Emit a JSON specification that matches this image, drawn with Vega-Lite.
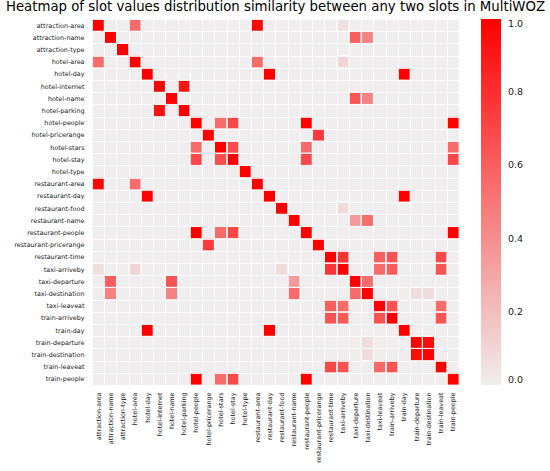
{
  "$schema": "https://vega.github.io/schema/vega-lite/v6.json",
  "autosize": {"type": "none"},
  "padding": {"left": 92, "top": 19, "right": 91, "bottom": 86},
  "width": 367,
  "height": 366,
  "title": {"text": "Heatmap of slot values distribution similarity between any two slots in MultiWOZ", "font": "DejaVu Sans", "fontSize": 13.3, "fontWeight": "normal", "color": "#000000", "anchor": "middle", "frame": "group", "offset": 3},
  "config": {"view": {"fill": "#efeded", "stroke": null}},
  "data": {"values": [
    {"row": "attraction-area", "col": "attraction-area", "value": 1},
    {"row": "attraction-name", "col": "attraction-name", "value": 1},
    {"row": "attraction-type", "col": "attraction-type", "value": 1},
    {"row": "hotel-area", "col": "hotel-area", "value": 1},
    {"row": "hotel-day", "col": "hotel-day", "value": 1},
    {"row": "hotel-internet", "col": "hotel-internet", "value": 1},
    {"row": "hotel-name", "col": "hotel-name", "value": 1},
    {"row": "hotel-parking", "col": "hotel-parking", "value": 1},
    {"row": "hotel-people", "col": "hotel-people", "value": 1},
    {"row": "hotel-pricerange", "col": "hotel-pricerange", "value": 1},
    {"row": "hotel-stars", "col": "hotel-stars", "value": 1},
    {"row": "hotel-stay", "col": "hotel-stay", "value": 1},
    {"row": "hotel-type", "col": "hotel-type", "value": 1},
    {"row": "restaurant-area", "col": "restaurant-area", "value": 1},
    {"row": "restaurant-day", "col": "restaurant-day", "value": 1},
    {"row": "restaurant-food", "col": "restaurant-food", "value": 1},
    {"row": "restaurant-name", "col": "restaurant-name", "value": 1},
    {"row": "restaurant-people", "col": "restaurant-people", "value": 1},
    {"row": "restaurant-pricerange", "col": "restaurant-pricerange", "value": 1},
    {"row": "restaurant-time", "col": "restaurant-time", "value": 1},
    {"row": "taxi-arriveby", "col": "taxi-arriveby", "value": 1},
    {"row": "taxi-departure", "col": "taxi-departure", "value": 1},
    {"row": "taxi-destination", "col": "taxi-destination", "value": 1},
    {"row": "taxi-leaveat", "col": "taxi-leaveat", "value": 1},
    {"row": "train-arriveby", "col": "train-arriveby", "value": 1},
    {"row": "train-day", "col": "train-day", "value": 1},
    {"row": "train-departure", "col": "train-departure", "value": 1},
    {"row": "train-destination", "col": "train-destination", "value": 1},
    {"row": "train-leaveat", "col": "train-leaveat", "value": 1},
    {"row": "train-people", "col": "train-people", "value": 1},
    {"row": "attraction-area", "col": "hotel-area", "value": 0.55},
    {"row": "hotel-area", "col": "attraction-area", "value": 0.55},
    {"row": "attraction-area", "col": "restaurant-area", "value": 0.97},
    {"row": "restaurant-area", "col": "attraction-area", "value": 0.97},
    {"row": "hotel-area", "col": "restaurant-area", "value": 0.55},
    {"row": "restaurant-area", "col": "hotel-area", "value": 0.55},
    {"row": "attraction-name", "col": "taxi-departure", "value": 0.6},
    {"row": "taxi-departure", "col": "attraction-name", "value": 0.6},
    {"row": "attraction-name", "col": "taxi-destination", "value": 0.45},
    {"row": "taxi-destination", "col": "attraction-name", "value": 0.45},
    {"row": "hotel-name", "col": "taxi-departure", "value": 0.65},
    {"row": "taxi-departure", "col": "hotel-name", "value": 0.65},
    {"row": "hotel-name", "col": "taxi-destination", "value": 0.45},
    {"row": "taxi-destination", "col": "hotel-name", "value": 0.45},
    {"row": "restaurant-name", "col": "taxi-departure", "value": 0.35},
    {"row": "taxi-departure", "col": "restaurant-name", "value": 0.35},
    {"row": "restaurant-name", "col": "taxi-destination", "value": 0.55},
    {"row": "taxi-destination", "col": "restaurant-name", "value": 0.55},
    {"row": "hotel-day", "col": "restaurant-day", "value": 1},
    {"row": "restaurant-day", "col": "hotel-day", "value": 1},
    {"row": "hotel-day", "col": "train-day", "value": 1},
    {"row": "train-day", "col": "hotel-day", "value": 1},
    {"row": "restaurant-day", "col": "train-day", "value": 1},
    {"row": "train-day", "col": "restaurant-day", "value": 1},
    {"row": "hotel-internet", "col": "hotel-parking", "value": 0.92},
    {"row": "hotel-parking", "col": "hotel-internet", "value": 0.92},
    {"row": "hotel-people", "col": "hotel-stars", "value": 0.55},
    {"row": "hotel-stars", "col": "hotel-people", "value": 0.55},
    {"row": "hotel-people", "col": "hotel-stay", "value": 0.7},
    {"row": "hotel-stay", "col": "hotel-people", "value": 0.7},
    {"row": "hotel-people", "col": "restaurant-people", "value": 1},
    {"row": "restaurant-people", "col": "hotel-people", "value": 1},
    {"row": "hotel-people", "col": "train-people", "value": 1},
    {"row": "train-people", "col": "hotel-people", "value": 1},
    {"row": "hotel-stars", "col": "hotel-stay", "value": 0.68},
    {"row": "hotel-stay", "col": "hotel-stars", "value": 0.68},
    {"row": "hotel-stars", "col": "restaurant-people", "value": 0.55},
    {"row": "restaurant-people", "col": "hotel-stars", "value": 0.55},
    {"row": "hotel-stars", "col": "train-people", "value": 0.55},
    {"row": "train-people", "col": "hotel-stars", "value": 0.55},
    {"row": "hotel-stay", "col": "restaurant-people", "value": 0.7},
    {"row": "restaurant-people", "col": "hotel-stay", "value": 0.7},
    {"row": "hotel-stay", "col": "train-people", "value": 0.7},
    {"row": "train-people", "col": "hotel-stay", "value": 0.7},
    {"row": "restaurant-people", "col": "train-people", "value": 1},
    {"row": "train-people", "col": "restaurant-people", "value": 1},
    {"row": "hotel-pricerange", "col": "restaurant-pricerange", "value": 0.75},
    {"row": "restaurant-pricerange", "col": "hotel-pricerange", "value": 0.75},
    {"row": "restaurant-time", "col": "taxi-arriveby", "value": 0.78},
    {"row": "taxi-arriveby", "col": "restaurant-time", "value": 0.78},
    {"row": "restaurant-time", "col": "taxi-leaveat", "value": 0.6},
    {"row": "taxi-leaveat", "col": "restaurant-time", "value": 0.6},
    {"row": "restaurant-time", "col": "train-arriveby", "value": 0.65},
    {"row": "train-arriveby", "col": "restaurant-time", "value": 0.65},
    {"row": "restaurant-time", "col": "train-leaveat", "value": 0.7},
    {"row": "train-leaveat", "col": "restaurant-time", "value": 0.7},
    {"row": "taxi-arriveby", "col": "taxi-leaveat", "value": 0.55},
    {"row": "taxi-leaveat", "col": "taxi-arriveby", "value": 0.55},
    {"row": "taxi-arriveby", "col": "train-arriveby", "value": 0.62},
    {"row": "train-arriveby", "col": "taxi-arriveby", "value": 0.62},
    {"row": "taxi-arriveby", "col": "train-leaveat", "value": 0.65},
    {"row": "train-leaveat", "col": "taxi-arriveby", "value": 0.65},
    {"row": "taxi-leaveat", "col": "train-arriveby", "value": 0.65},
    {"row": "train-arriveby", "col": "taxi-leaveat", "value": 0.65},
    {"row": "taxi-leaveat", "col": "train-leaveat", "value": 0.55},
    {"row": "train-leaveat", "col": "taxi-leaveat", "value": 0.55},
    {"row": "train-arriveby", "col": "train-leaveat", "value": 0.65},
    {"row": "train-leaveat", "col": "train-arriveby", "value": 0.65},
    {"row": "taxi-departure", "col": "taxi-destination", "value": 0.55},
    {"row": "taxi-destination", "col": "taxi-departure", "value": 0.55},
    {"row": "train-departure", "col": "train-destination", "value": 0.95},
    {"row": "train-destination", "col": "train-departure", "value": 0.95},
    {"row": "hotel-area", "col": "taxi-arriveby", "value": 0.1},
    {"row": "taxi-arriveby", "col": "hotel-area", "value": 0.1},
    {"row": "attraction-area", "col": "taxi-arriveby", "value": 0.06},
    {"row": "taxi-arriveby", "col": "attraction-area", "value": 0.06},
    {"row": "restaurant-food", "col": "taxi-arriveby", "value": 0.08},
    {"row": "taxi-arriveby", "col": "restaurant-food", "value": 0.08},
    {"row": "taxi-destination", "col": "train-departure", "value": 0.07},
    {"row": "train-departure", "col": "taxi-destination", "value": 0.07},
    {"row": "taxi-destination", "col": "train-destination", "value": 0.07},
    {"row": "train-destination", "col": "taxi-destination", "value": 0.07}
  ]},
  "mark": {"type": "rect", "stroke": "#ffffff", "strokeWidth": 0.8},
  "encoding": {
    "x": {
      "field": "col", "type": "nominal",
      "scale": {"domain": ["attraction-area", "attraction-name", "attraction-type", "hotel-area", "hotel-day", "hotel-internet", "hotel-name", "hotel-parking", "hotel-people", "hotel-pricerange", "hotel-stars", "hotel-stay", "hotel-type", "restaurant-area", "restaurant-day", "restaurant-food", "restaurant-name", "restaurant-people", "restaurant-pricerange", "restaurant-time", "taxi-arriveby", "taxi-departure", "taxi-destination", "taxi-leaveat", "train-arriveby", "train-day", "train-departure", "train-destination", "train-leaveat", "train-people"], "paddingInner": 0, "paddingOuter": 0},
      "axis": {"title": null, "orient": "bottom", "labelAngle": -90, "labelFont": "DejaVu Sans", "labelFontSize": 6.4, "labelColor": "#1a1a1a", "labelPadding": 7, "ticks": false, "domain": false, "tickBand": "extent", "grid": true, "gridColor": "#ffffff", "gridWidth": 0.8, "labelOverlap": false}
    },
    "y": {
      "field": "row", "type": "nominal",
      "scale": {"domain": ["attraction-area", "attraction-name", "attraction-type", "hotel-area", "hotel-day", "hotel-internet", "hotel-name", "hotel-parking", "hotel-people", "hotel-pricerange", "hotel-stars", "hotel-stay", "hotel-type", "restaurant-area", "restaurant-day", "restaurant-food", "restaurant-name", "restaurant-people", "restaurant-pricerange", "restaurant-time", "taxi-arriveby", "taxi-departure", "taxi-destination", "taxi-leaveat", "train-arriveby", "train-day", "train-departure", "train-destination", "train-leaveat", "train-people"], "paddingInner": 0, "paddingOuter": 0},
      "axis": {"title": null, "labelFont": "DejaVu Sans", "labelFontSize": 6.4, "labelColor": "#1a1a1a", "labelPadding": 8, "ticks": false, "domain": false, "tickBand": "extent", "grid": true, "gridColor": "#ffffff", "gridWidth": 0.8, "labelOverlap": false}
    },
    "color": {
      "field": "value", "type": "quantitative",
      "scale": {"domain": [0, 1], "range": ["#efeded", "#ff0000"], "interpolate": "rgb"},
      "legend": {"title": null, "orient": "none", "legendX": 389, "legendY": 0, "direction": "vertical", "gradientLength": 366, "gradientThickness": 20, "gradientStrokeWidth": 0, "values": [0, 0.2, 0.4, 0.6, 0.8, 1], "format": ".1f", "labelFont": "DejaVu Sans", "labelFontSize": 9.5, "labelColor": "#1a1a1a", "labelOffset": 7}
    }
  }
}
